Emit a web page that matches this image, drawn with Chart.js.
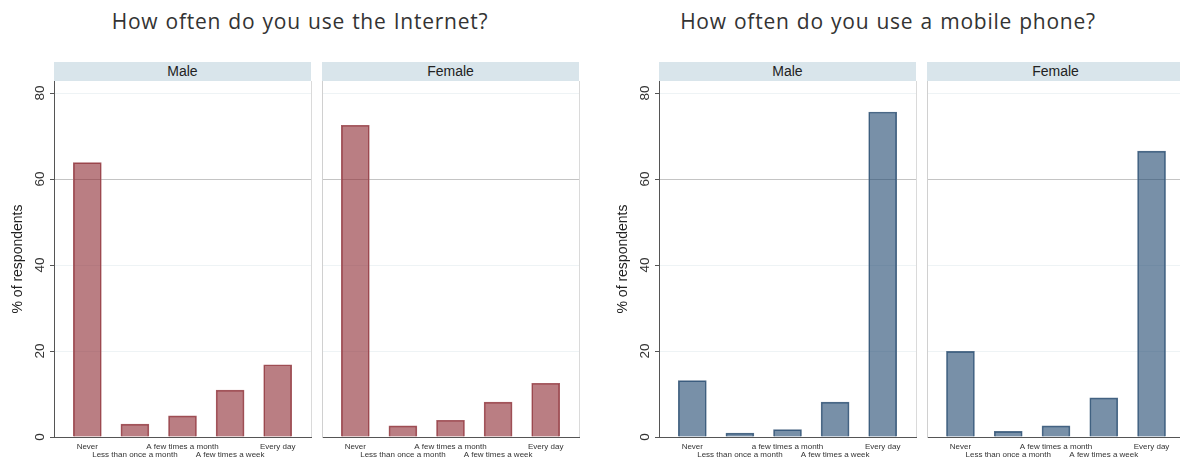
<!DOCTYPE html>
<html>
<head>
<meta charset="utf-8">
<script src="https://cdn.jsdelivr.net/npm/chart.js@4/dist/chart.umd.min.js"></script>
<style>
  body { margin: 0; width: 1180px; height: 458px; overflow: hidden; background: #fff; position: relative; font-family: "Liberation Sans", Arial, sans-serif; }
  .title { position: absolute; top: 7px; width: 590px; text-align: center; font-family: "Open Sans", sans-serif; font-weight: 400; font-size: 21px; letter-spacing: 0.75px; word-spacing: 1px; color: #333; }
  .strip { position: absolute; top: 62px; height: 19px; line-height: 19px; background: #d9e5eb; text-align: center; font-size: 14px; color: #222; }
  canvas { position: absolute; top: 81px; }
</style>
</head>
<body>
<div class="title" style="left:5px">How often do you use the Internet?</div>
<div class="title" style="left:593px">How often do you use a mobile phone?</div>

<div class="strip" style="left:54px;width:257px">Male</div>
<div class="strip" style="left:322px;width:257px">Female</div>
<div class="strip" style="left:659px;width:257px">Male</div>
<div class="strip" style="left:927px;width:257px">Female</div>

<canvas id="im" width="312" height="377" style="left:0px"></canvas>
<canvas id="if" width="259" height="377" style="left:321px"></canvas>
<canvas id="pm" width="312" height="377" style="left:605px"></canvas>
<canvas id="pf" width="260" height="377" style="left:926px"></canvas>

<script>
const categories = ['Never', 'Less than once a month', 'A few times a month', 'A few times a week', 'Every day'];
const phoneMaleCategories = ['Never', 'Less than once a month', 'a few times a month', 'A few times a week', 'Every day'];

const internetMale = [63.8, 3.0, 4.9, 10.9, 16.8];
const internetFemale = [72.5, 2.6, 3.9, 8.1, 12.5];
const phoneMale = [13.1, 0.9, 1.7, 8.1, 75.6];
const phoneFemale = [19.9, 1.3, 2.6, 9.1, 66.5];

const yTicks = [0, 20, 40, 60, 80];
const yMax = 82.8;

const red = { fill: 'rgba(140, 40, 48, 0.6)', line: '#a65d63' };
const blue = { fill: 'rgba(30, 70, 110, 0.6)', line: '#536f8b' };

// rotated y tick labels, like the original
const yLabels = {
  id: 'yLabels',
  afterDraw(chart, args, opts) {
    if (!opts.show) return;
    const s = chart.scales.y;
    const ctx = chart.ctx;
    ctx.save();
    ctx.font = '13.5px "Liberation Sans"';
    ctx.fillStyle = '#333';
    ctx.textAlign = 'center';
    ctx.textBaseline = 'middle';
    yTicks.forEach(v => {
      ctx.save();
      ctx.translate(s.right - 14, s.getPixelForValue(v));
      ctx.rotate(-Math.PI / 2);
      ctx.fillText(String(v), 0, 0);
      ctx.restore();
    });
    ctx.restore();
  }
};

// light right edge of each panel
const frame = {
  id: 'frame',
  beforeDatasetsDraw(chart) {
    const a = chart.chartArea;
    const ctx = chart.ctx;
    ctx.save();
    ctx.strokeStyle = '#dadada';
    ctx.lineWidth = 1;
    ctx.beginPath();
    ctx.moveTo(Math.round(a.right) + 0.5, a.top);
    ctx.lineTo(Math.round(a.right) + 0.5, a.bottom);
    ctx.stroke();
    ctx.restore();
  }
};

function panel(id, values, labels, color, withAxis) {
  new Chart(document.getElementById(id), {
    type: 'bar',
    data: {
      datasets: [{
        data: values.map((v, i) => ({ x: i, y: v })),
        backgroundColor: color.fill,
        borderColor: color.line,
        borderWidth: 1,
        barThickness: 28
      }]
    },
    options: {
      responsive: false,
      animation: false,
      devicePixelRatio: 1,
      layout: { padding: { left: withAxis ? 0 : 1, right: 1, top: 0, bottom: 0 } },
      plugins: {
        legend: { display: false },
        tooltip: { enabled: false },
        yLabels: { show: withAxis }
      },
      scales: {
        x: {
          type: 'linear',
          offset: false,
          min: -0.7,
          max: 4.7,
          afterBuildTicks: s => { s.ticks = labels.map((c, i) => ({ value: i })); },
          afterFit: s => { s.height = 21; },
          grid: { display: false, drawTicks: false },
          border: { color: '#555', width: 1 },
          ticks: {
            autoSkip: false,
            maxRotation: 0,
            minRotation: 0,
            padding: 5.5,
            color: '#333',
            font: { family: 'Liberation Sans', size: 8, lineHeight: 1 },
            callback: v => {
              const i = Math.round(v);
              return i % 2 ? ['', labels[i]] : labels[i];
            }
          }
        },
        y: {
          min: 0,
          max: yMax,
          afterBuildTicks: s => { s.ticks = yTicks.map(v => ({ value: v })); },
          afterFit: s => { s.width = withAxis ? 54 : 0; },
          border: { color: withAxis ? '#555' : '#d0d0d0', width: 1 },
          grid: {
            color: c => c.tick && c.tick.value === 60 ? '#c4c4c4' : '#eef3f5',
            drawTicks: withAxis,
            tickLength: 4,
            tickColor: '#555'
          },
          ticks: { display: false },
          title: {
            display: withAxis,
            text: '% of respondents',
            color: '#222',
            font: { family: 'Liberation Sans', size: 14 },
            padding: { top: 10, bottom: 0 }
          }
        }
      }
    },
    plugins: [yLabels, frame]
  });
}

panel('im', internetMale, categories, red, true);
panel('if', internetFemale, categories, red, false);
panel('pm', phoneMale, phoneMaleCategories, blue, true);
panel('pf', phoneFemale, categories, blue, false);
</script>
</body>
</html>
